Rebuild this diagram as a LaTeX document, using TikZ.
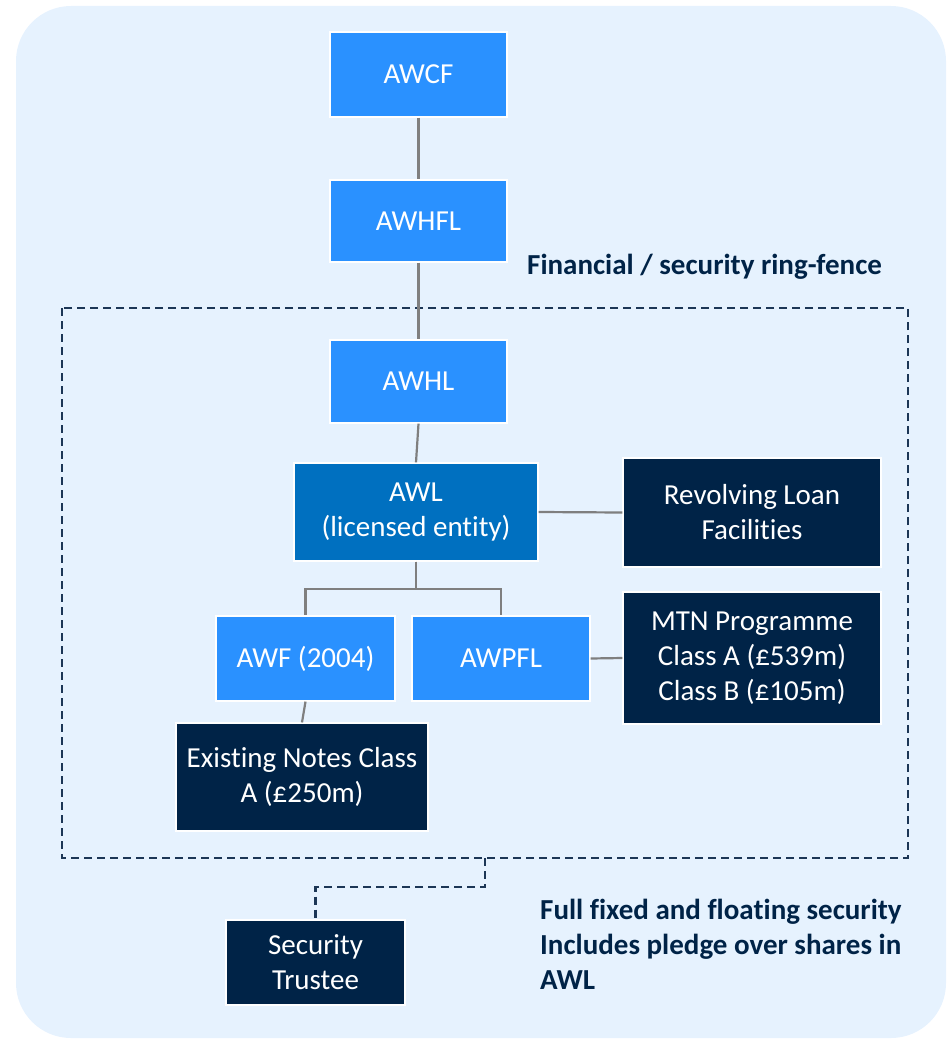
\documentclass[tikz,border=0pt]{standalone}
\usepackage{fontspec}
\setmainfont{Carlito}[Ligatures=NoCommon]
\definecolor{bg}{HTML}{E6F2FE}
\definecolor{bright}{HTML}{2A91FF}
\definecolor{mid}{HTML}{0070C0}
\definecolor{navy}{HTML}{002347}
\definecolor{conn}{HTML}{7F7F7F}
\definecolor{dashc}{HTML}{1C3656}
\tikzset{
  box/.style={draw=white, line width=1.2pt, text=white, align=center, inner sep=0pt,
    font=\fontsize{29}{35}\selectfont},
  lite/.style={box, fill=bright},
  midbox/.style={box, fill=mid},
  dark/.style={box, fill=navy},
  link/.style={draw=conn, line width=2.2pt},
  ring/.style={draw=dashc, line width=2.2pt, dash pattern=on 8pt off 5pt},
  lbl/.style={text=navy, font=\bfseries\fontsize{29}{35}\selectfont, align=left, inner sep=0pt}
}
\begin{document}
\begin{tikzpicture}[x=1pt,y=-1pt]
\useasboundingbox (0,0) rectangle (946,1041);
\fill[bg, rounded corners=55pt] (16,6) rectangle (946,1038);
% ring-fence
\draw[ring] (62,308) rectangle (908,858);
% nodes
\node[lite, minimum width=177pt, minimum height=85pt] (awcf) at (418.5,74.5) {AWCF};
\node[lite, minimum width=177pt, minimum height=82pt] (awhfl) at (418.5,221) {AWHFL};
\node[lite, minimum width=177pt, minimum height=83pt] (awhl) at (418.5,381.5) {AWHL};
\node[midbox, minimum width=244pt, minimum height=98pt] (awl) at (416,512) {AWL\\(licensed entity)};
\node[dark, minimum width=258pt, minimum height=109pt] (rlf) at (752,512.5) {Revolving Loan\\Facilities};
\node[lite, minimum width=179pt, minimum height=85pt] (awf) at (305.5,658.5) {AWF (2004)};
\node[lite, minimum width=178pt, minimum height=85pt] (awpfl) at (501,658.5) {AWPFL};
\node[dark, minimum width=258pt, minimum height=132pt] (mtn) at (752,658) {MTN Programme\\Class A (£539m)\\Class B (£105m)};
\node[dark, minimum width=252pt, minimum height=108pt] (ena) at (302,777) {Existing Notes Class\\A (£250m)};
\node[dark, minimum width=179pt, minimum height=85pt] (st) at (315.5,962.5) {Security\\Trustee};
% labels
\node[lbl, anchor=west] (rf) at (527,267) {Financial / security ring-fence};
\node[lbl, anchor=north west] (fs) at (540,899) {Full fixed and floating security\\Includes pledge over shares in\\AWL};
% connectors
\coordinate (rb) at (485,858);
\draw[link] (awcf.south) -- (awhfl.north);
\draw[link] (awhfl.south) -- (awhl.north);
\draw[link] (awhl.south) -- (awl.north);
\draw[link] (awl.east) -- (rlf.west);
\draw[link] (awl.south) -- ++(0,27) -| (awf.north);
\draw[link] (awl.south) -- ++(0,27) -| (awpfl.north);
\draw[link] (awpfl.east) -- (mtn.west);
\draw[link] (awf.south) -- (ena.north);
\draw[ring] (rb) -- ++(0,29) -| (st.north);
\end{tikzpicture}
\end{document}
